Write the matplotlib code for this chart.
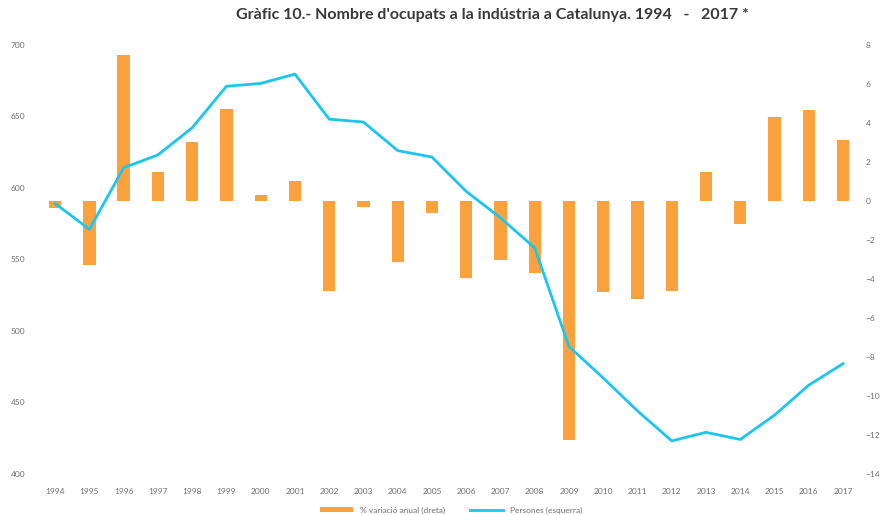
import numpy as np
import matplotlib
matplotlib.use('Agg')
import matplotlib.pyplot as plt
from matplotlib.patches import Patch
from matplotlib.lines import Line2D

years = [str(y) for y in range(1994, 2018)]
# % variació anual (eix dret)
variacio = [-0.35, -3.3, 7.5, 1.5, 3.0, 4.7, 0.3, 1.0, -4.65, -0.3, -3.15, -0.6,
            -3.95, -3.05, -3.7, -12.25, -4.7, -5.05, -4.6, 1.5, -1.2, 4.3, 4.65, 3.1]
# Persones, milers (eix esquerre)
persones = [589, 571, 614, 623, 642, 671, 673, 679.5, 648, 646, 626, 621.5,
            597.5, 579, 558, 489, 467, 444, 423, 429, 424, 441, 462, 477]

orange = '#FBA23F'
cyan = '#1BC6EE'
grey = '#6f6f6f'

plt.rcParams['font.family'] = ['Lato', 'DejaVu Sans']

fig = plt.figure(figsize=(8.84, 5.15), dpi=100)
ax = fig.add_axes([0.043, 0.080, 0.930, 0.833])
x = np.arange(len(years))

# bars on primary axis (right ticks), line on twin so it sits on top
ax.bar(x, variacio, width=0.36, color=orange, zorder=2)
ax.set_ylim(-14, 8)
ax.set_yticks(np.arange(-14, 9, 2))
ax.set_xlim(-0.5, len(years) - 0.5)
ax.set_xticks(x)
ax.set_xticklabels(years)

ax2 = ax.twinx()
ax2.plot(x, persones, color=cyan, linewidth=2, zorder=3)
ax2.set_ylim(400, 700)
ax2.set_yticks(np.arange(400, 701, 50))

ax.yaxis.tick_right()
ax2.yaxis.tick_left()
ax.tick_params(axis='y', left=False, labelleft=False, right=True, labelright=True)
ax2.tick_params(axis='y', right=False, labelright=False, left=True, labelleft=True)

for a in (ax, ax2):
    for s in a.spines.values():
        s.set_visible(False)
    a.tick_params(axis='both', length=0, labelsize=6, colors=grey)
ax.tick_params(axis='x', pad=10)
ax.tick_params(axis='y', pad=4)
ax2.tick_params(axis='y', pad=9)

fig.suptitle("Gràfic 10.- Nombre d'ocupats a la indústria a Catalunya. 1994   -   2017 *",
             x=0.557, y=0.985, fontsize=11.5, fontweight='bold', color='#3a3a3a')

handles = [Patch(facecolor=orange, edgecolor='none'),
           Line2D([0], [0], color=cyan, linewidth=2)]
fig.legend(handles, ['% variació anual (dreta)', 'Persones (esquerra)'],
           loc='lower center', bbox_to_anchor=(0.51, -0.012), ncol=2, frameon=False,
           fontsize=6, labelcolor=grey, handlelength=4, handleheight=0.5,
           columnspacing=3)

fig.savefig('out.png', dpi=100, facecolor='white')
